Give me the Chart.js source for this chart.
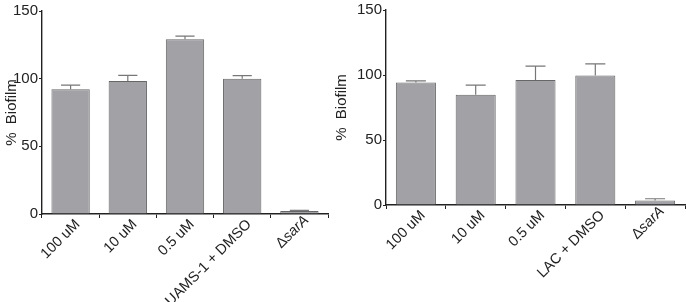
<!DOCTYPE html>
<html>
<head>
<meta charset="UTF-8">
<title>% Biofilm</title>
<style>
  html, body { margin: 0; padding: 0; background: #fff; }
  .panel { position: absolute; top: 0; height: 302px; }
  #left { left: 0; width: 343px; }
  #right { left: 330px; width: 356px; }
</style>
</head>
<body>
<div class="panel" id="left"><canvas id="chartA"></canvas></div>
<div class="panel" id="right"><canvas id="chartB"></canvas></div>
<script src="https://cdn.jsdelivr.net/npm/chart.js@4/dist/chart.umd.min.js"></script>
<script>
    // left panel (UAMS-1)
    var labelsA = ['100 uM', '10 uM', '0.5 uM', 'UAMS-1 + DMSO', 'ΔsarA'];
    var valuesA = [92.1, 98.3, 129.1, 100.0, 2.2];
    var errorsA = [3.2, 4.2, 2.4, 2.2, 0.5];

    // right panel (LAC)
    var labelsB = ['100 uM', '10 uM', '0.5 uM', 'LAC + DMSO', 'ΔsarA'];
    var valuesB = [94.2, 84.9, 96.2, 99.7, 3.5];
    var errorsB = [1.3, 7.3, 10.6, 8.9, 1.3];

    var yTicks = [0, 50, 100, 150];

    var FONT = 'Liberation Sans, Arial, sans-serif';
    var XSIZE = 14.5;
    var XSHIFT = 7;
    var XPAD = -2;

    // draws upper error whiskers and the italic "sarA" label
    var extras = {
        id: 'extras',
        afterDatasetsDraw: function (chart) {
            var ctx = chart.ctx;
            var meta = chart.getDatasetMeta(0);
            var y = chart.scales.y;
            var errs = chart.options.plugins.extras.errors;
            ctx.save();
            ctx.strokeStyle = '#777';
            ctx.lineWidth = 1.2;
            meta.data.forEach(function (bar, i) {
                var v = chart.data.datasets[0].data[i];
                var top = y.getPixelForValue(v + errs[i]);
                var half = bar.width / 4;
                ctx.beginPath();
                ctx.moveTo(bar.x, y.getPixelForValue(v));
                ctx.lineTo(bar.x, top);
                ctx.moveTo(bar.x - half, top);
                ctx.lineTo(bar.x + half, top);
                ctx.stroke();
            });
            ctx.restore();
        },
        afterDraw: function (chart) {
            var ctx = chart.ctx;
            var x = chart.scales.x;
            var idx = chart.data.labels.length - 1;
            var px = x.getPixelForTick(idx) + XSHIFT;
            var py = x.top + 4 + XPAD + 2;
            ctx.save();
            ctx.translate(px, py);
            ctx.rotate(-Math.PI / 4);
            ctx.fillStyle = '#222';
            ctx.textBaseline = 'middle';
            ctx.textAlign = 'right';
            ctx.font = 'italic ' + XSIZE + 'px ' + FONT;
            ctx.fillText('sarA', 0, 0);
            var w = ctx.measureText('sarA').width;
            ctx.font = XSIZE + 'px ' + FONT;
            ctx.fillText('Δ', -w, 0);
            ctx.restore();
        }
    };

    function makeChart(id, labels, values, errors, pad, yWidth, xHeight) {
        var ctx = document.getElementById(id).getContext('2d');
        return new Chart(ctx, {
            type: 'bar',
            data: {
                labels: labels,
                datasets: [{
                    data: values,
                    backgroundColor: '#a1a1a6',
                    borderColor: '#666',
                    borderWidth: 1,
                    barPercentage: 0.67,
                    categoryPercentage: 1
                }]
            },
            options: {
                responsive: true,
                maintainAspectRatio: false,
                animation: false,
                layout: { padding: pad },
                plugins: {
                    legend: { display: false },
                    tooltip: { enabled: false },
                    extras: { errors: errors }
                },
                scales: {
                    x: {
                        grid: { display: true, drawOnChartArea: false, drawTicks: true, tickLength: 4, color: '#222' },
                        border: { display: true, color: '#222', width: 1.6 },
                        ticks: {
                            color: '#222',
                            font: { family: FONT, size: XSIZE },
                            minRotation: 45,
                            maxRotation: 45,
                            padding: XPAD,
                            labelOffset: XSHIFT,
                            callback: function (v, i) { return i === labels.length - 1 ? '' : labels[i]; }
                        },
                        afterFit: function (s) { s.height = xHeight; }
                    },
                    y: {
                        min: 0,
                        max: 150,
                        afterBuildTicks: function (s) { s.ticks = yTicks.map(function (v) { return { value: v }; }); },
                        grid: { display: true, drawOnChartArea: false, drawTicks: true, tickLength: 3, color: '#222' },
                        border: { display: true, color: '#222', width: 1.4 },
                        ticks: { color: '#222', font: { family: FONT, size: 15 }, padding: 1 },
                        title: { display: true, text: '%  Biofilm', color: '#222', font: { family: FONT, size: 15 }, padding: { top: 3, bottom: 4 } },
                        afterFit: function (s) { s.width = yWidth; }
                    }
                }
            },
            plugins: [extras]
        });
    }

    makeChart('chartA', labelsA, valuesA, errorsA, { top: 11, right: 15, left: 0, bottom: 0 }, 42, 88);
    makeChart('chartB', labelsB, valuesB, errorsB, { top: 6, right: 1, left: 0, bottom: 0 }, 56, 97);
</script>
</body>
</html>
